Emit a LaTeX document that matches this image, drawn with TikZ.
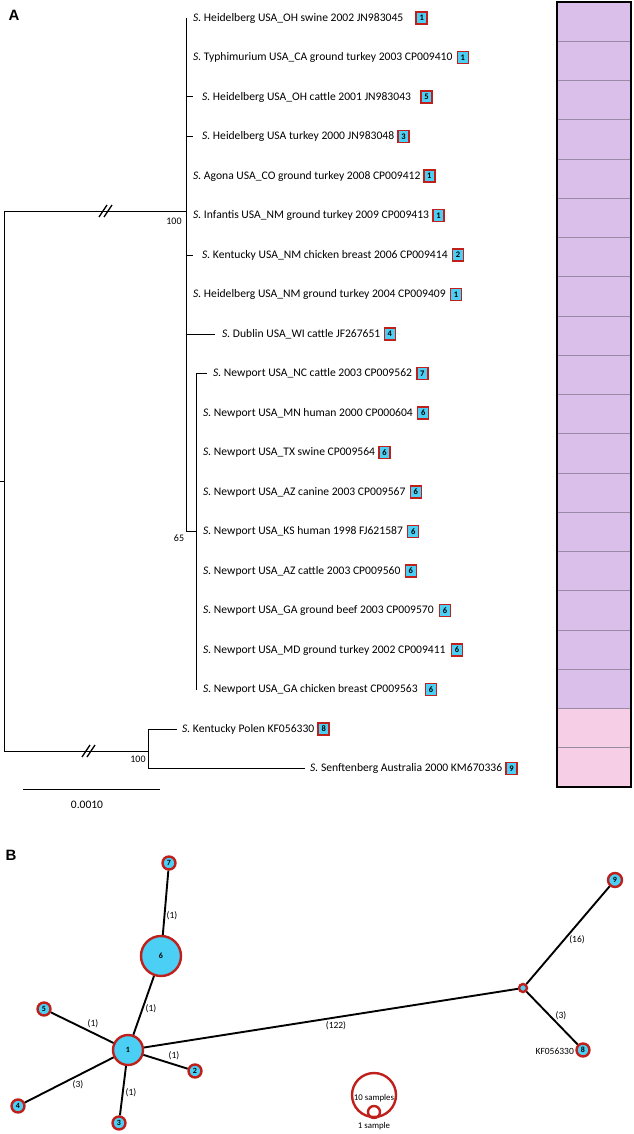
\documentclass[tikz,border=0pt]{standalone}
\usepackage{fontspec}
\setmainfont{Carlito}
\newfontfamily\arialf{Liberation Sans}
\definecolor{lav}{HTML}{D9BFEA}
\definecolor{pnk}{HTML}{F6CFE6}
\definecolor{cy}{HTML}{4CCFF4}
\definecolor{rd}{HTML}{C0201C}
\definecolor{sepc}{HTML}{9A8AA5}
\tikzset{
  br/.style={line width=1pt, black},
  leaf/.style={anchor=west, inner sep=0pt, font=\fontsize{11.6}{13}\selectfont},
  numbox/.style={draw=rd, fill=cy, line width=1.4pt, minimum width=11pt, minimum height=12pt, inner sep=0pt, anchor=west, font=\fontsize{8.5}{8.5}\selectfont\bfseries},
  boot/.style={inner sep=0pt, font=\fontsize{10}{10}\selectfont},
  cell/.style={draw=sepc, line width=0.7pt},
  netnode/.style={circle, draw=rd, fill=cy, line width=2.4pt, inner sep=0pt, font=\fontsize{8}{8}\selectfont\bfseries},
  netedge/.style={line width=1.9pt, black},
  elabel/.style={inner sep=0pt, font=\fontsize{9.5}{10}\selectfont},
  panel/.style={inner sep=0pt, font=\arialf\fontsize{15}{15}\selectfont\bfseries},
  brk/.style={line width=1.3pt, black}
}
\begin{document}
\begin{tikzpicture}[x=1pt,y=-1pt]
\useasboundingbox (0,0) rectangle (633,1134);
% panel labels
\node[panel] (pA) at (14,15) {A};
\node[panel] (pB) at (11,855) {B};
% leaves
\foreach \i/\tx/\t/\g/\n in {
 0/193/{Heidelberg USA\_OH swine 2002 JN983045}/12/1,
 1/193/{Typhimurium USA\_CA ground turkey 2003 CP009410}/4/1,
 2/202/{Heidelberg USA\_OH cattle 2001 JN983043}/9/5,
 3/202/{Heidelberg USA turkey 2000 JN983048}/3/3,
 4/193/{Agona USA\_CO ground turkey 2008 CP009412}/2.5/1,
 5/193/{Infantis USA\_NM ground turkey 2009 CP009413}/3/1,
 6/202/{Kentucky USA\_NM chicken breast 2006 CP009414}/4/2,
 7/193/{Heidelberg USA\_NM ground turkey 2004 CP009409}/4/1,
 8/222/{Dublin USA\_WI cattle JF267651}/3/4,
 9/213/{Newport USA\_NC cattle 2003 CP009562}/4/7,
 10/203/{Newport USA\_MN human 2000 CP000604}/4/6,
 11/203/{Newport USA\_TX swine CP009564}/3/6,
 12/203/{Newport USA\_AZ canine 2003 CP009567}/4/6,
 13/203/{Newport USA\_KS human 1998 FJ621587}/4/6,
 14/203/{Newport USA\_AZ cattle 2003 CP009560}/4/6,
 15/203/{Newport USA\_GA ground beef 2003 CP009570}/5/6,
 16/203/{Newport USA\_MD ground turkey 2002 CP009411}/5/6,
 17/203/{Newport USA\_GA chicken breast CP009563}/7/6,
 18/182/{Kentucky Polen KF056330}/3/8,
 19/310/{Senftenberg Australia 2000 KM670336}/3/9}
{
  \node[leaf] (l\i) at ({\tx},{18+39.5*\i}) {\textit{S.} \t};
  \node[numbox] (b\i) at ([xshift=\g pt]l\i.east) {\n};
}
% internal nodes
\coordinate (root) at (4,481);
\coordinate (rootT) at (4,211);
\coordinate (rootB) at (4,751);
\coordinate (cA) at (186,211);
\coordinate (cAt) at (186,18);
\coordinate (cAb) at (186,531);
\coordinate (cN) at (196,531);
\coordinate (cNt) at (196,373.5);
\coordinate (cNb) at (196,689.5);
\coordinate (cB) at (148,751);
\coordinate (cBt) at (148,729);
\coordinate (cBb) at (148,768.5);
% tree branches
\draw[br] (0,481) -- (root);
\draw[br] (rootT) -- (rootB);
\draw[br] (rootT) -- (cA);
\draw[br] (cAt) -- (cAb);
\draw[br] (cAb) -- (cN);
\draw[br] (cNt) -- (cNb);
\draw[br] (rootB) -- (cB);
\draw[br] (cBt) -- (cBb);
\draw[br] (186,97) -- (193,97);
\draw[br] (186,136.5) -- (193,136.5);
\draw[br] (186,255) -- (193,255);
\draw[br] (186,334) -- (215,334);
\draw[br] (cNt) -- (207,373.5);
\draw[br] (cBt) -- (177,729);
\draw[br] (cBb) -- (305,768.5);
% break marks
\draw[brk] (99,217) -- (107,205);
\draw[brk] (104,217) -- (112,205);
\draw[brk] (82,757) -- (90,745);
\draw[brk] (87,757) -- (95,745);
% bootstrap
\node[boot] (bs1) at (174,221) {100};
\node[boot] (bs2) at (179,538) {65};
\node[boot] (bs3) at (138,759) {100};
% scale bar
\coordinate (sb1) at (23,789);
\coordinate (sb2) at (160,789);
\draw[br] (sb1) -- (sb2);
\node[inner sep=0pt, font=\fontsize{11.5}{11.5}\selectfont] (sbl) at (87,805) {0.0010};
% colour bar
\foreach \i in {0,...,17}{
  \draw[cell, fill=lav] (557,{2+39.25*\i}) rectangle (631,{2+39.25*(\i+1)});
}
\foreach \i in {18,19}{
  \draw[cell, fill=pnk] (557,{2+39.25*\i}) rectangle (631,{2+39.25*(\i+1)});
}
\draw[line width=1.6pt] (557,2) rectangle (631,787);
% network
\node[netnode, minimum size=13pt] (n7) at (169,863) {7};
\node[netnode, minimum size=40pt] (n6) at (161,956) {6};
\node[netnode, minimum size=13pt] (n5) at (44,1009) {5};
\node[netnode, minimum size=30pt] (n1) at (128,1050) {1};
\node[netnode, minimum size=13pt] (n2) at (195,1071) {2};
\node[netnode, minimum size=13pt] (n4) at (18,1106) {4};
\node[netnode, minimum size=13pt] (n3) at (119,1123) {3};
\node[netnode, minimum size=8pt] (nh) at (523,988) {};
\node[netnode, minimum size=14pt] (n9) at (615,880) {9};
\node[netnode, minimum size=13pt] (n8) at (583,1050) {8};
\draw[netedge] (n7) -- (n6);
\draw[netedge] (n6) -- (n1);
\draw[netedge] (n5) -- (n1);
\draw[netedge] (n1) -- (n2);
\draw[netedge] (n4) -- (n1);
\draw[netedge] (n1) -- (n3);
\draw[netedge] (n1) -- (nh);
\draw[netedge] (nh) -- (n9);
\draw[netedge] (nh) -- (n8);
\node[elabel] (e76) at (172,916) {(1)};
\node[elabel] (e61) at (151,1009) {(1)};
\node[elabel] (e51) at (93,1024) {(1)};
\node[elabel] (e12) at (174,1056) {(1)};
\node[elabel] (e41) at (78,1085) {(3)};
\node[elabel] (e13) at (131,1093) {(1)};
\node[elabel] (e1h) at (336,1026) {(122)};
\node[elabel] (eh9) at (577,940) {(16)};
\node[elabel] (eh8) at (561,1016) {(3)};
\node[elabel, anchor=east] (kf) at (574,1051) {KF056330};
% legend
\node[circle, draw=rd, line width=2.4pt, minimum size=44pt, inner sep=0pt] (leg10) at (374,1095) {};
\node[circle, draw=rd, line width=2.4pt, minimum size=12pt, inner sep=0pt] (leg1) at (374,1112) {};
\node[elabel, font=\fontsize{8.8}{9}\selectfont] (legt10) at (374,1098) {10 samples};
\node[elabel, font=\fontsize{8.8}{9}\selectfont] (legt1) at (374,1126) {1 sample};
\end{tikzpicture}
\end{document}
